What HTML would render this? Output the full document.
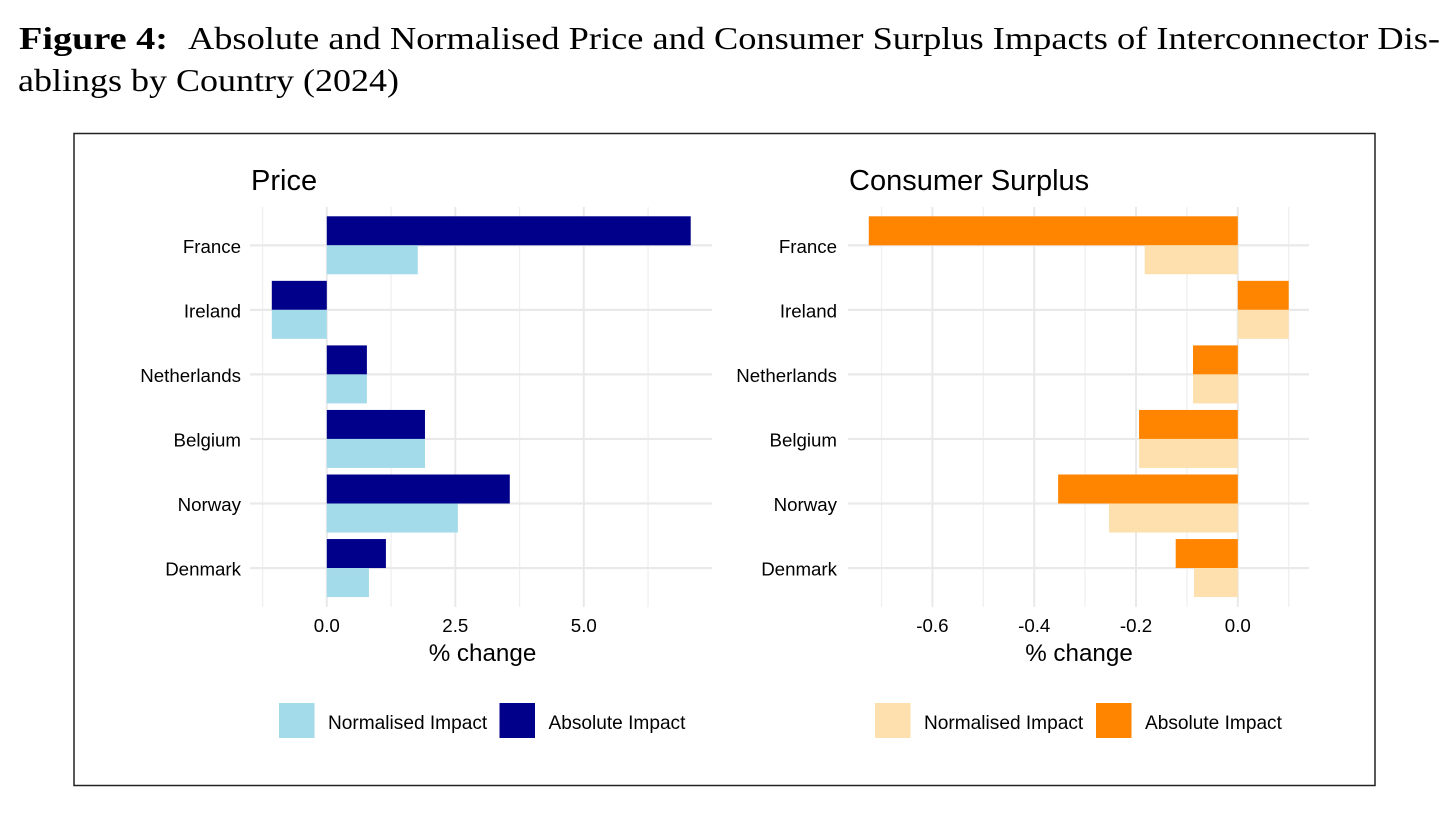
<!DOCTYPE html>
<html lang="en">
<head>
<meta charset="utf-8">
<title>Figure 4</title>
<style>
html,body{margin:0;padding:0;background:#fff;width:1456px;height:816px;overflow:hidden}
svg{display:block}
.sans{font-family:"Liberation Sans",Arial,sans-serif;fill:#000}
.serif{font-family:"Liberation Serif","Times New Roman",serif;fill:#000}
</style>
</head>
<body>
<svg id="fig" width="1456" height="816" viewBox="0 0 1456 816" xmlns="http://www.w3.org/2000/svg">
  <rect x="0" y="0" width="1456" height="816" fill="#ffffff"/>
  <g>
    <text class="serif" x="19" y="49" font-size="32" font-weight="bold" textLength="149" lengthAdjust="spacingAndGlyphs">Figure 4:</text>
    <text class="serif" x="188" y="49" font-size="32" textLength="1252" lengthAdjust="spacingAndGlyphs">Absolute and Normalised Price and Consumer Surplus Impacts of Interconnector Dis-</text>
    <text class="serif" x="18" y="91" font-size="32" textLength="381" lengthAdjust="spacingAndGlyphs">ablings by Country (2024)</text>
  </g>
  <rect x="74" y="133.5" width="1301" height="652" fill="none" stroke="#222" stroke-width="1.5"/>
  <g id="panels"></g>
</svg>
<script>
const countries = ["France", "Ireland", "Netherlands", "Belgium", "Norway", "Denmark"];
const priceAbsolute = [7.08, -1.07, 0.78, 1.91, 3.56, 1.15];
const priceNormalised = [1.77, -1.07, 0.78, 1.91, 2.55, 0.82];
const surplusAbsolute = [-0.725, 0.1, -0.088, -0.194, -0.353, -0.122];
const surplusNormalised = [-0.183, 0.1, -0.088, -0.194, -0.253, -0.086];
const priceMajorTicks = [0, 2.5, 5];
const priceMinorTicks = [-1.25, 1.25, 3.75, 6.25];
const priceTickLabels = ["0.0", "2.5", "5.0"];
const surplusMajorTicks = [-0.6, -0.4, -0.2, 0];
const surplusMinorTicks = [-0.7, -0.5, -0.3, -0.1, 0.1];
const surplusTickLabels = ["-0.6", "-0.4", "-0.2", "0.0"];
const legendLabels = ["Normalised Impact", "Absolute Impact"];

const NS = "http://www.w3.org/2000/svg";
const root = document.getElementById("panels");
const PANEL_TOP = 207, PANEL_BOTTOM = 607;
const ROW_FIRST = 245.3, ROW_STEP = 64.55, BAR_H = 29;

function yBand(i) { return ROW_FIRST + i * ROW_STEP; }

function make(tag, attrs, parent, text) {
  const el = document.createElementNS(NS, tag);
  for (const k in attrs) el.setAttribute(k, attrs[k]);
  if (text !== undefined) el.textContent = text;
  parent.appendChild(el);
  return el;
}

function drawPanel(p) {
  const x = v => p.zeroX + v * p.scale;
  const g = make("g", {}, root);
  
  

  const title = make("text", {class: "sans", x: p.left + 1, y: 190, "font-size": 29}, g, p.title);
  
  

  p.minor.forEach(v => {
    const l = make("line", {x1: x(v), x2: x(v), y1: PANEL_TOP, y2: PANEL_BOTTOM, stroke: "#efefef", "stroke-width": 1.2}, g);
    
    
  });
  p.major.forEach(v => {
    const l = make("line", {x1: x(v), x2: x(v), y1: PANEL_TOP, y2: PANEL_BOTTOM, stroke: "#e9e9e9", "stroke-width": 2}, g);
    
    
  });
  countries.forEach((c, i) => {
    const l = make("line", {x1: p.left, x2: p.right, y1: yBand(i), y2: yBand(i), stroke: "#e9e9e9", "stroke-width": 2.2}, g);
    
    
  });

  countries.forEach((c, i) => {
    const a = p.absolute[i], n = p.normalised[i];
    const barA = make("rect", {x: Math.min(x(0), x(a)), y: yBand(i) - BAR_H, width: Math.abs(x(a) - x(0)), height: BAR_H, fill: p.colorA}, g);
    
    
    const barN = make("rect", {x: Math.min(x(0), x(n)), y: yBand(i), width: Math.abs(x(n) - x(0)), height: BAR_H, fill: p.colorN}, g);
    
    
    const lab = make("text", {class: "sans", x: p.labelRight, y: yBand(i) + 7.5, "font-size": 18.7, "text-anchor": "end"}, g, c);
    
    
  });

  p.major.forEach((v, i) => {
    const t = make("text", {class: "sans", x: x(v), y: 632, "font-size": 18.7, "text-anchor": "middle"}, g, p.labels[i]);
    
    
  });

  const axis = make("text", {class: "sans", x: p.axisCenter, y: 661, "font-size": 24.2, "text-anchor": "middle"}, g, "% change");
  
  

  const colors = [p.colorN, p.colorA];
  legendLabels.forEach((t, i) => {
    const entry = make("g", {}, g);
    
    
    make("rect", {x: p.legendX[i], y: 703, width: 35.5, height: 35, fill: colors[i]}, entry);
    make("text", {class: "sans", x: p.legendX[i] + 49, y: 729, "font-size": 19.1}, entry, t);
  });
}

drawPanel({
  id: "price", title: "Price", zeroX: 326.8, scale: 51.4, left: 250, right: 712,
  labelRight: 241, axisCenter: 482.5,
  major: priceMajorTicks, minor: priceMinorTicks, labels: priceTickLabels,
  absolute: priceAbsolute, normalised: priceNormalised,
  colorA: "#00008b", colorN: "#a3dbea", legendX: [279, 499.5]
});
drawPanel({
  id: "surplus", title: "Consumer Surplus", zeroX: 1237.8, scale: 509, left: 848, right: 1309,
  labelRight: 837, axisCenter: 1079,
  major: surplusMajorTicks, minor: surplusMinorTicks, labels: surplusTickLabels,
  absolute: surplusAbsolute, normalised: surplusNormalised,
  colorA: "#ff8400", colorN: "#fde0ae", legendX: [875, 1096]
});
</script>
</body>
</html>
